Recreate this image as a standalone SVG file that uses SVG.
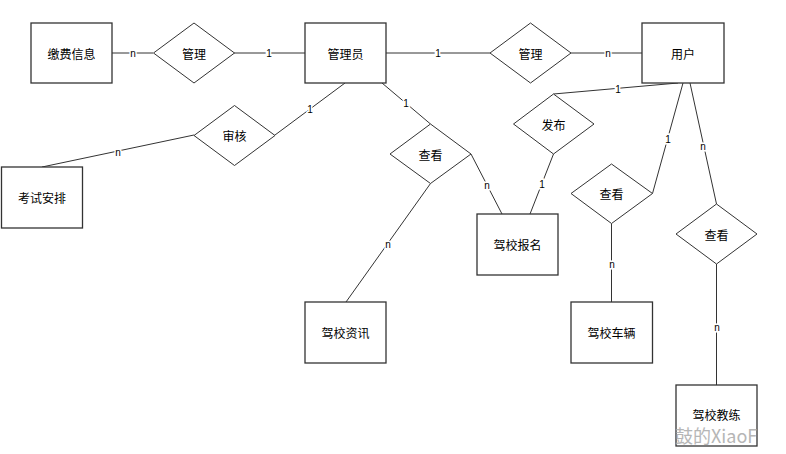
<svg xmlns="http://www.w3.org/2000/svg" width="786" height="454" viewBox="0 0 786 454">
<style>
.box{fill:#fff;stroke:#333;stroke-width:1.3}
.dia{fill:#fff;stroke:#333;stroke-width:1}
.lbl{font-family:"Noto Sans CJK SC","Liberation Sans",sans-serif;font-size:12px;fill:#000;text-anchor:middle;dominant-baseline:central}
.card{font-family:"Liberation Sans",sans-serif;font-size:10px;fill:#000;text-anchor:middle;dominant-baseline:central;stroke:#fff;stroke-width:3;paint-order:stroke}
.ln{stroke:#333;stroke-width:1;fill:none}
</style>
<rect width="786" height="454" fill="#fff"/>
<g id="connectors">
<line class="ln" x1="112" y1="53" x2="153" y2="53"/>
<line class="ln" x1="234" y1="53" x2="305" y2="53"/>
<line class="ln" x1="386" y1="53" x2="490" y2="53"/>
<line class="ln" x1="571" y1="53" x2="642" y2="53"/>
<line class="ln" x1="345" y1="83" x2="275" y2="135"/>
<line class="ln" x1="194" y1="135" x2="42" y2="167"/>
<line class="ln" x1="382" y1="83" x2="430.5" y2="124"/>
<line class="ln" x1="471" y1="154" x2="502" y2="214"/>
<line class="ln" x1="430.5" y1="183.5" x2="346" y2="302"/>
<line class="ln" x1="678" y1="83" x2="553.5" y2="94"/>
<line class="ln" x1="553.5" y1="154" x2="530" y2="214"/>
<line class="ln" x1="683" y1="83" x2="652.5" y2="193.5"/>
<line class="ln" x1="611.5" y1="223.5" x2="611.5" y2="302"/>
<line class="ln" x1="690" y1="83" x2="716.5" y2="204"/>
<line class="ln" x1="716.5" y1="264" x2="716.5" y2="385"/>
<text class="card" x="133" y="53">n</text>
<text class="card" x="269" y="53">1</text>
<text class="card" x="438" y="53">1</text>
<text class="card" x="608" y="53">n</text>
<text class="card" x="310" y="109">1</text>
<text class="card" x="118" y="152">n</text>
<text class="card" x="406" y="103">1</text>
<text class="card" x="487" y="185">n</text>
<text class="card" x="388" y="244">n</text>
<text class="card" x="618" y="89">1</text>
<text class="card" x="542" y="184">1</text>
<text class="card" x="668" y="139">1</text>
<text class="card" x="612" y="264">n</text>
<text class="card" x="703" y="146">n</text>
<text class="card" x="717" y="327">n</text>
</g>
<g id="jiaofeixinxi"><rect class="box" x="31" y="23" width="81" height="60"/><text class="lbl" x="71.5" y="53">缴费信息</text></g>
<g id="guanli1"><polygon class="dia" points="153.5,53 194,23 234.5,53 194,83"/><text class="lbl" x="194" y="53">管理</text></g>
<g id="guanliyuan"><rect class="box" x="305" y="23" width="81" height="60"/><text class="lbl" x="345.5" y="53">管理员</text></g>
<g id="guanli2"><polygon class="dia" points="490,53 530.5,23 571,53 530.5,83"/><text class="lbl" x="530.5" y="53">管理</text></g>
<g id="yonghu"><rect class="box" x="642" y="23" width="82" height="60"/><text class="lbl" x="683" y="53">用户</text></g>
<g id="shenhe"><polygon class="dia" points="194,135.5 234.5,105.5 275,135.5 234.5,165.5"/><text class="lbl" x="234.5" y="135.5">审核</text></g>
<g id="kaoshianpai"><rect class="box" x="1.5" y="167" width="81" height="61"/><text class="lbl" x="42" y="197.5">考试安排</text></g>
<g id="chakan1"><polygon class="dia" points="390,154 430.5,124 471,154 430.5,183.5"/><text class="lbl" x="430.5" y="154">查看</text></g>
<g id="fabu"><polygon class="dia" points="513.5,124 553.5,94 594,124 553.5,154"/><text class="lbl" x="553.5" y="124">发布</text></g>
<g id="baoming"><rect class="box" x="477" y="214" width="81" height="61"/><text class="lbl" x="517.5" y="244.5">驾校报名</text></g>
<g id="zixun"><rect class="box" x="305" y="302" width="81" height="61"/><text class="lbl" x="345.5" y="332.5">驾校资讯</text></g>
<g id="chakan2"><polygon class="dia" points="571,193.5 611.5,164 652.5,193.5 611.5,223.5"/><text class="lbl" x="611.5" y="193.5">查看</text></g>
<g id="cheliang"><rect class="box" x="571" y="302" width="81.5" height="61"/><text class="lbl" x="611.5" y="332.5">驾校车辆</text></g>
<g id="chakan3"><polygon class="dia" points="676,234 716.5,204 757,234 716.5,264"/><text class="lbl" x="716.5" y="234">查看</text></g>
<g id="jiaolian"><rect class="box" x="676" y="385" width="81" height="61"/><text class="lbl" x="716.5" y="414">驾校教练</text></g>
<text x="675" y="443" font-family="Noto Sans CJK SC,Liberation Sans,sans-serif" font-size="18" fill="#aaa" opacity="0.85">鼓的XiaoF</text>
</svg>
